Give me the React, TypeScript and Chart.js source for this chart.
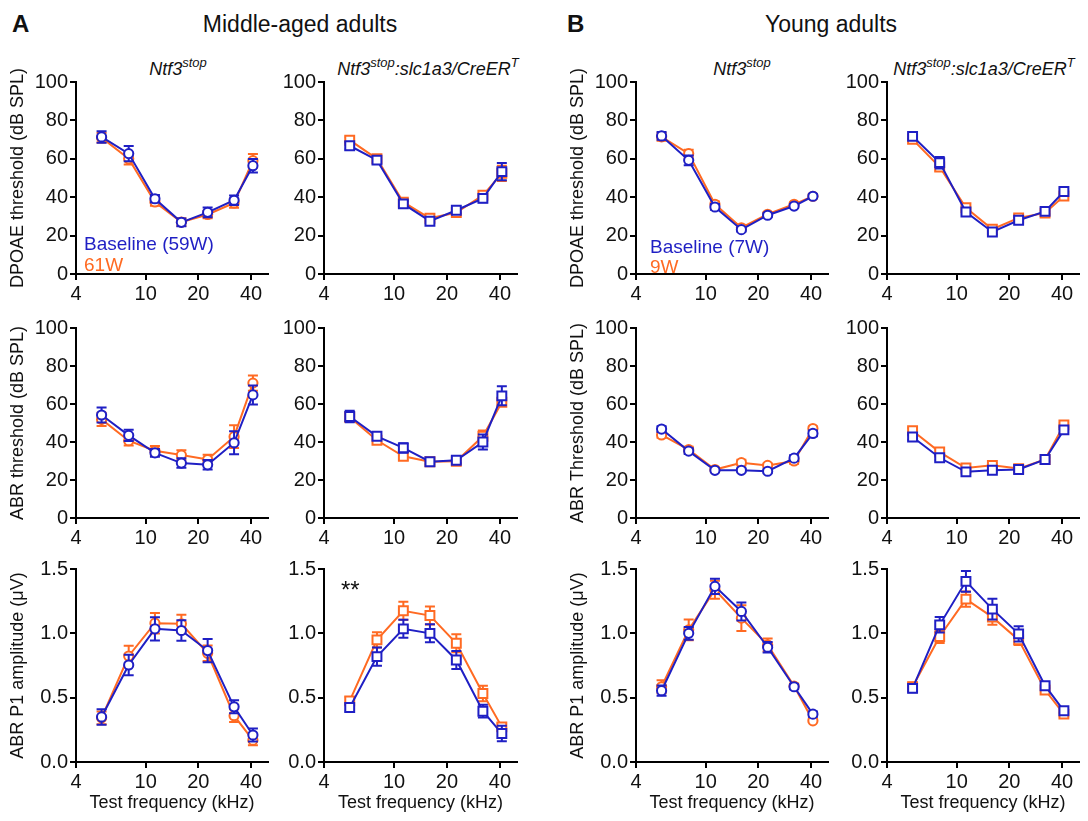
import React, { useEffect, useRef } from 'react';
import { Chart, registerables } from 'chart.js';

Chart.register(...registerables);

const BLUE = '#1f1fc4';
const ORANGE = '#ff6a22';
const FONT = "'Liberation Sans', Arial, sans-serif";

// ---------- data ----------
const freqs = [5.6, 8, 11.3, 16, 22.6, 32, 41];
const xTickValues = [4, 10, 20, 40];
const thresholdTicks = [0, 20, 40, 60, 80, 100];
const amplitudeTicks = [0, 0.5, 1.0, 1.5];

// Middle-aged, Ntf3stop, DPOAE
const maNtfDpBase = [71.4, 62.7, 39.2, 26.9, 32.1, 38.4, 56.4];
const maNtfDpBaseErr = [3, 4, 2, 2, 2.5, 2.5, 3.5];
const maNtfDpPost = [71, 60, 37.5, 27, 31, 37, 59];
const maNtfDpPostErr = [2.5, 3, 2, 2, 2, 2.5, 3.5];
// Middle-aged, Cre, DPOAE
const maCreDpBase = [66.8, 59.3, 36.5, 27.5, 33.2, 39.4, 53.3];
const maCreDpBaseErr = [2, 2, 1.5, 1.5, 1.5, 2, 4.5];
const maCreDpPost = [69.7, 60, 37.4, 29, 32, 41, 52.4];
const maCreDpPostErr = [1.5, 2, 1.5, 1.5, 1.5, 1.5, 4];
// Middle-aged, Ntf3stop, ABR threshold
const maNtfAbrBase = [54.2, 43.5, 34.3, 28.9, 28, 39.6, 64.8];
const maNtfAbrBaseErr = [4, 3, 2, 2.5, 2.5, 6, 5];
const maNtfAbrPost = [51.9, 40.7, 35.4, 33.1, 30.8, 42.8, 71];
const maNtfAbrPostErr = [3.5, 2.5, 2.5, 2.5, 2.5, 6, 4];
// Middle-aged, Cre, ABR threshold
const maCreAbrBase = [53.4, 43, 36.9, 29.6, 30.4, 40, 64.3];
const maCreAbrBaseErr = [3, 2, 2.5, 1.5, 1.5, 4, 5];
const maCreAbrPost = [53, 40.9, 32.5, 29.6, 29.9, 43, 60.9];
const maCreAbrPostErr = [2.5, 2, 2, 1.5, 1.5, 3, 2];
// Middle-aged, Ntf3stop, ABR P1 amplitude
const maNtfAmpBase = [0.35, 0.754, 1.035, 1.022, 0.866, 0.429, 0.21];
const maNtfAmpBaseErr = [0.06, 0.08, 0.09, 0.08, 0.09, 0.05, 0.05];
const maNtfAmpPost = [0.343, 0.824, 1.079, 1.074, 0.845, 0.36, 0.17];
const maNtfAmpPostErr = [0.05, 0.08, 0.08, 0.07, 0.06, 0.05, 0.04];
// Middle-aged, Cre, ABR P1 amplitude
const maCreAmpBase = [0.424, 0.819, 1.035, 1.0, 0.793, 0.395, 0.221];
const maCreAmpBaseErr = [0.03, 0.07, 0.07, 0.07, 0.07, 0.05, 0.06];
const maCreAmpPost = [0.475, 0.949, 1.175, 1.138, 0.923, 0.533, 0.273];
const maCreAmpPostErr = [0.03, 0.06, 0.07, 0.07, 0.07, 0.06, 0.03];
// Young, Ntf3stop, DPOAE
const yaNtfDpBase = [71.9, 59.2, 34.9, 23.1, 30.6, 35.4, 40.5];
const yaNtfDpBaseErr = [2, 2.5, 1.5, 1, 1, 1, 1];
const yaNtfDpPost = [71.4, 62.7, 36.3, 24.1, 31.1, 36.3, 40.5];
const yaNtfDpPostErr = [2, 2, 1.5, 1, 1, 1, 1];
// Young, Cre, DPOAE
const yaCreDpBase = [71.7, 58, 32.3, 21.9, 28, 32.6, 43];
const yaCreDpBaseErr = [1.5, 3, 1.5, 1.5, 1.5, 1.5, 1.5];
const yaCreDpPost = [70.1, 55.7, 34.5, 23.3, 29.2, 31.8, 40.6];
const yaCreDpPostErr = [1.5, 2, 1.5, 1, 1.5, 1, 1.5];
// Young, Ntf3stop, ABR threshold
const yaNtfAbrBase = [46.8, 35.2, 25.1, 25.1, 24.6, 31.5, 44.5];
const yaNtfAbrBaseErr = [1.5, 1.5, 1, 1, 1, 1.5, 1.5];
const yaNtfAbrPost = [43.7, 36, 25.5, 29.1, 27.7, 30, 47.1];
const yaNtfAbrPostErr = [1.5, 1.5, 1, 1.5, 1, 1.5, 1];
// Young, Cre, ABR threshold
const yaCreAbrBase = [42.6, 31.7, 24.3, 25.1, 25.5, 30.8, 46.4];
const yaCreAbrBaseErr = [1.5, 1.5, 1, 1, 1, 1, 1.5];
const yaCreAbrPost = [45.9, 34.7, 26.3, 27.7, 26, 30.8, 49];
const yaCreAbrPostErr = [1.5, 1.5, 1, 1, 1, 1, 1];
// Young, Ntf3stop, ABR P1 amplitude
const yaNtfAmpBase = [0.554, 1.0, 1.365, 1.17, 0.892, 0.585, 0.372];
const yaNtfAmpBaseErr = [0.04, 0.05, 0.06, 0.07, 0.04, 0.02, 0.02];
const yaNtfAmpPost = [0.585, 1.027, 1.339, 1.118, 0.91, 0.59, 0.32];
const yaNtfAmpPostErr = [0.05, 0.08, 0.07, 0.1, 0.05, 0.02, 0.01];
// Young, Cre, ABR P1 amplitude
const yaCreAmpBase = [0.572, 1.066, 1.404, 1.188, 0.996, 0.593, 0.398];
const yaCreAmpBaseErr = [0.03, 0.06, 0.08, 0.08, 0.06, 0.02, 0.02];
const yaCreAmpPost = [0.585, 0.975, 1.266, 1.126, 0.949, 0.559, 0.372];
const yaCreAmpPostErr = [0.03, 0.05, 0.06, 0.06, 0.04, 0.02, 0.02];

// ---------- layout ----------
const ROWS = [
  { top: 82, bottom: 274 },
  { top: 328, bottom: 518 },
  { top: 569, bottom: 762 },
];
const COLS = [
  { left: 76, right: 268 },
  { left: 324, right: 517 },
  { left: 636, right: 828 },
  { left: 887, right: 1079 },
];
const YW = 70;
const PAD_TOP = 14;
const PAD_RIGHT = 12;

type PanelDef = {
  row: number;
  col: number;
  shape: 'circle' | 'rect';
  base: number[];
  baseErr: number[];
  post: number[];
  postErr: number[];
  yTitle?: string;
};

const panels: PanelDef[] = [
  { row: 0, col: 0, shape: 'circle', base: maNtfDpBase, baseErr: maNtfDpBaseErr, post: maNtfDpPost, postErr: maNtfDpPostErr, yTitle: 'DPOAE threshold (dB SPL)' },
  { row: 0, col: 1, shape: 'rect', base: maCreDpBase, baseErr: maCreDpBaseErr, post: maCreDpPost, postErr: maCreDpPostErr },
  { row: 0, col: 2, shape: 'circle', base: yaNtfDpBase, baseErr: yaNtfDpBaseErr, post: yaNtfDpPost, postErr: yaNtfDpPostErr, yTitle: 'DPOAE threshold (dB SPL)' },
  { row: 0, col: 3, shape: 'rect', base: yaCreDpBase, baseErr: yaCreDpBaseErr, post: yaCreDpPost, postErr: yaCreDpPostErr },
  { row: 1, col: 0, shape: 'circle', base: maNtfAbrBase, baseErr: maNtfAbrBaseErr, post: maNtfAbrPost, postErr: maNtfAbrPostErr, yTitle: 'ABR threshold (dB SPL)' },
  { row: 1, col: 1, shape: 'rect', base: maCreAbrBase, baseErr: maCreAbrBaseErr, post: maCreAbrPost, postErr: maCreAbrPostErr },
  { row: 1, col: 2, shape: 'circle', base: yaNtfAbrBase, baseErr: yaNtfAbrBaseErr, post: yaNtfAbrPost, postErr: yaNtfAbrPostErr, yTitle: 'ABR Threshold (dB SPL)' },
  { row: 1, col: 3, shape: 'rect', base: yaCreAbrBase, baseErr: yaCreAbrBaseErr, post: yaCreAbrPost, postErr: yaCreAbrPostErr },
  { row: 2, col: 0, shape: 'circle', base: maNtfAmpBase, baseErr: maNtfAmpBaseErr, post: maNtfAmpPost, postErr: maNtfAmpPostErr, yTitle: 'ABR P1 amplitude (\u03BCV)' },
  { row: 2, col: 1, shape: 'rect', base: maCreAmpBase, baseErr: maCreAmpBaseErr, post: maCreAmpPost, postErr: maCreAmpPostErr },
  { row: 2, col: 2, shape: 'circle', base: yaNtfAmpBase, baseErr: yaNtfAmpBaseErr, post: yaNtfAmpPost, postErr: yaNtfAmpPostErr, yTitle: 'ABR P1 amplitude (\u03BCV)' },
  { row: 2, col: 3, shape: 'rect', base: yaCreAmpBase, baseErr: yaCreAmpBaseErr, post: yaCreAmpPost, postErr: yaCreAmpPostErr },
];

const errorBarPlugin = {
  id: 'errorBars',
  beforeDatasetDraw(chart: any, args: any) {
    const ds = chart.data.datasets[args.index];
    const errs: number[] | undefined = ds.errors;
    if (!errs) return;
    const yScale = chart.scales.y;
    const ctx = chart.ctx;
    ctx.save();
    ctx.strokeStyle = ds.borderColor;
    ctx.lineWidth = 2;
    args.meta.data.forEach((pt: any, i: number) => {
      const v = ds.data[i].y;
      const e = errs[i];
      const x = pt.x;
      const y1 = yScale.getPixelForValue(v + e);
      const y2 = yScale.getPixelForValue(v - e);
      ctx.beginPath();
      ctx.moveTo(x, y1);
      ctx.lineTo(x, y2);
      ctx.moveTo(x - 5, y1);
      ctx.lineTo(x + 5, y1);
      ctx.moveTo(x - 5, y2);
      ctx.lineTo(x + 5, y2);
      ctx.stroke();
    });
    ctx.restore();
  },
};

function Panel({ p }: { p: PanelDef }) {
  const ref = useRef<HTMLCanvasElement>(null);
  const r = ROWS[p.row];
  const c = COLS[p.col];
  const isAmp = p.row === 2;
  const XH = isAmp ? 52 : 30;
  const W = YW + (c.right - c.left) + PAD_RIGHT;
  const H = PAD_TOP + (r.bottom - r.top) + XH;
  const left = c.left - YW;
  const top = r.top - PAD_TOP;

  useEffect(() => {
    const radius = p.shape === 'rect' ? 6.3 : 4.6;
    const mk = (vals: number[], errs: number[], color: string) => ({
      data: vals.map((v, i) => ({ x: freqs[i], y: v })),
      errors: errs,
      borderColor: color,
      backgroundColor: '#ffffff',
      pointBackgroundColor: '#ffffff',
      pointBorderColor: color,
      pointBorderWidth: 2,
      pointRadius: radius,
      pointStyle: p.shape,
      borderWidth: 2,
      showLine: true,
      clip: false as any,
    });
    const yTicks = isAmp ? amplitudeTicks : thresholdTicks;
    const chart = new Chart(ref.current as HTMLCanvasElement, {
      type: 'scatter',
      data: {
        datasets: [mk(p.base, p.baseErr, BLUE) as any, mk(p.post, p.postErr, ORANGE) as any],
      },
      plugins: [errorBarPlugin as any],
      options: {
        animation: false,
        responsive: false,
        devicePixelRatio: 1,
        layout: { padding: { top: PAD_TOP, right: PAD_RIGHT, left: 0, bottom: 0 } },
        plugins: { legend: { display: false }, tooltip: { enabled: false } },
        events: [],
        scales: {
          x: {
            type: 'logarithmic',
            position: 'bottom',
            min: 4,
            max: 50,
            afterBuildTicks: (s: any) => {
              s.ticks = xTickValues.map((v) => ({ value: v }));
            },
            afterFit: (s: any) => {
              s.height = XH;
            },
            ticks: {
              autoSkip: false,
              maxRotation: 0,
              padding: 2,
              color: '#111',
              font: { family: FONT, size: 20 },
              callback: (v: any) => String(v),
            },
            grid: { drawOnChartArea: false, drawTicks: true, tickLength: 6, color: '#000', lineWidth: 2 },
            border: { display: true, color: '#000', width: 2 },
            title: {
              display: isAmp,
              text: 'Test frequency (kHz)',
              color: '#111',
              font: { family: FONT, size: 18 },
              padding: { top: 0, bottom: 0 },
            },
          },
          y: {
            type: 'linear',
            min: 0,
            max: isAmp ? 1.5 : 100,
            afterBuildTicks: (s: any) => {
              s.ticks = yTicks.map((v) => ({ value: v }));
            },
            afterFit: (s: any) => {
              s.width = YW;
            },
            ticks: {
              autoSkip: false,
              padding: 2,
              color: '#111',
              font: { family: FONT, size: 20 },
              callback: (v: any) => (isAmp ? Number(v).toFixed(1) : String(v)),
            },
            grid: { drawOnChartArea: false, drawTicks: true, tickLength: 6, color: '#000', lineWidth: 2 },
            border: { display: true, color: '#000', width: 2 },
            title: {
              display: !!p.yTitle,
              text: p.yTitle || '',
              color: '#111',
              font: { family: FONT, size: 18 },
              padding: { top: 1, bottom: 0 },
            },
          },
        },
      } as any,
    });
    return () => chart.destroy();
  }, []);

  return (
    <canvas
      ref={ref}
      width={W}
      height={H}
      style={{ position: 'absolute', left, top, width: W, height: H }}
    />
  );
}

function Txt({
  x,
  baseline,
  size,
  children,
  color = '#111',
  bold = false,
  italic = false,
  center = false,
}: any) {
  return (
    <div
      style={{
        position: 'absolute',
        left: x,
        top: baseline - 0.8465 * size,
        fontFamily: FONT,
        fontSize: size,
        lineHeight: 1,
        color,
        fontWeight: bold ? 'bold' : 'normal',
        fontStyle: italic ? 'italic' : 'normal',
        whiteSpace: 'nowrap',
        transform: center ? 'translateX(-50%)' : undefined,
      }}
    >
      {children}
    </div>
  );
}

const Sup = ({ children }: any) => (
  <span style={{ fontSize: 13, position: 'relative', top: -8 }}>{children}</span>
);

export default function App() {
  return (
    <div
      style={{
        position: 'absolute',
        left: 0,
        top: 0,
        width: 1088,
        height: 821,
        background: '#fff',
        overflow: 'hidden',
      }}
    >
      <Txt x={12} baseline={32} size={24} bold>A</Txt>
      <Txt x={300} baseline={32} size={23} center>Middle-aged adults</Txt>
      <Txt x={567} baseline={32} size={24} bold>B</Txt>
      <Txt x={831} baseline={32} size={23} center>Young adults</Txt>

      <Txt x={178} baseline={75} size={18} italic center>
        Ntf3<Sup>stop</Sup>
      </Txt>
      <Txt x={428} baseline={75} size={18} italic center>
        Ntf3<Sup>stop</Sup>:slc1a3/CreER<Sup>T</Sup>
      </Txt>
      <Txt x={742} baseline={75} size={18} italic center>
        Ntf3<Sup>stop</Sup>
      </Txt>
      <Txt x={984} baseline={75} size={18} italic center>
        Ntf3<Sup>stop</Sup>:slc1a3/CreER<Sup>T</Sup>
      </Txt>

      {panels.map((p, i) => (
        <Panel key={i} p={p} />
      ))}

      <Txt x={84} baseline={250} size={19} color={BLUE}>Baseline (59W)</Txt>
      <Txt x={84} baseline={271} size={19} color={ORANGE}>61W</Txt>
      <Txt x={650} baseline={253} size={19} color={BLUE}>Baseline (7W)</Txt>
      <Txt x={650} baseline={273} size={19} color={ORANGE}>9W</Txt>

      <Txt x={341} baseline={598} size={24}>**</Txt>
    </div>
  );
}
